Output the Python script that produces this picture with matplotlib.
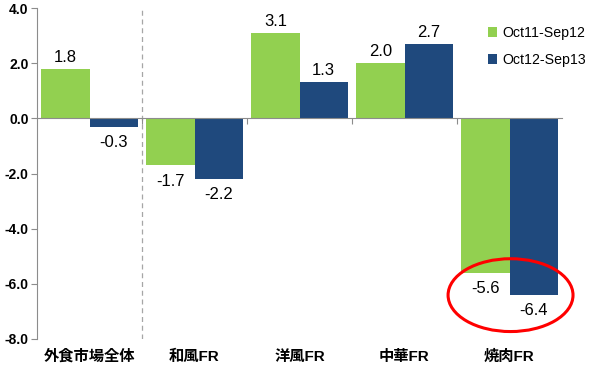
import numpy as np
from matplotlib import pyplot as plt
from matplotlib.patches import Ellipse

plt.rcParams['font.family'] = ['Liberation Sans', 'Noto Sans CJK JP', 'DejaVu Sans']
plt.rcParams['axes.unicode_minus'] = False

# データ
categories = ['外食市場全体', '和風FR', '洋風FR', '中華FR', '焼肉FR']
series_names = ['Oct11-Sep12', 'Oct12-Sep13']
vals_1112 = [1.8, -1.7, 3.1, 2.0, -5.6]
vals_1213 = [-0.3, -2.2, 1.3, 2.7, -6.4]
y_ticks = [-8.0, -6.0, -4.0, -2.0, 0.0, 2.0, 4.0]

green = '#92D050'
navy = '#1F497D'
grey = '#8C8C8C'

fig = plt.figure(figsize=(5.89, 3.70), dpi=100)
ax = fig.add_axes([37 / 589, 1 - 339 / 370, 525 / 589, 331 / 370])

x = np.arange(len(categories))
w = 0.46
b1 = ax.bar(x - w / 2, vals_1112, w, color=green, label=series_names[0], zorder=2)
b2 = ax.bar(x + w / 2, vals_1213, w, color=navy, label=series_names[1], zorder=2)

# 数値ラベル
for bars, vals in [(b1, vals_1112), (b2, vals_1213)]:
    for rect, v in zip(bars, vals):
        cx = rect.get_x() + rect.get_width() / 2
        off = 3 if v >= 0 else -6
        ax.annotate(f'{v:.1f}', (cx, v), xytext=(0, off), textcoords='offset points',
                    ha='center', va='bottom' if v >= 0 else 'top', fontsize=12)

ax.set_xlim(-0.5, len(categories) - 0.5)
ax.set_ylim(-8, 4)
ax.set_yticks(y_ticks)
ax.set_yticklabels([f'{t:.1f}' for t in y_ticks], fontweight='bold', fontsize=10)
ax.tick_params(axis='y', direction='out', length=4, color=grey, pad=2)

for s in ['top', 'right']:
    ax.spines[s].set_visible(False)
ax.spines['left'].set_color(grey)
# 横軸は0の位置に
ax.spines['bottom'].set_position(('data', 0))
ax.spines['bottom'].set_color(grey)
ax.set_xticks(x[:-1] + 0.5)
ax.set_xticklabels([])
ax.tick_params(axis='x', direction='out', length=4, color=grey)

# カテゴリ名は下端に
for xi, c in zip(x, categories):
    ax.text(xi, -0.054, c, transform=ax.get_xaxis_transform(), ha='center', va='center',
            fontsize=11, fontweight='bold')

# 区切りの点線
ax.axvline(0.5, color='#A6A6A6', ls=(0, (4, 3)), lw=0.9, zorder=1)

# 焼肉FRを赤丸で囲む
ax.add_patch(Ellipse((4.01, -6.41), 1.19, 2.64, fill=False, ec='#FF0000', lw=2.2,
                     clip_on=False, zorder=3))

ax.legend(loc='upper left', bbox_to_anchor=(488 / 589, 1 - 26 / 370),
          bbox_transform=fig.transFigure, frameon=False, fontsize=10.2,
          handlelength=0.65, handleheight=0.65, handletextpad=0.35,
          labelspacing=0.9, borderpad=0, borderaxespad=0)

fig.savefig('out.png', dpi=100)
